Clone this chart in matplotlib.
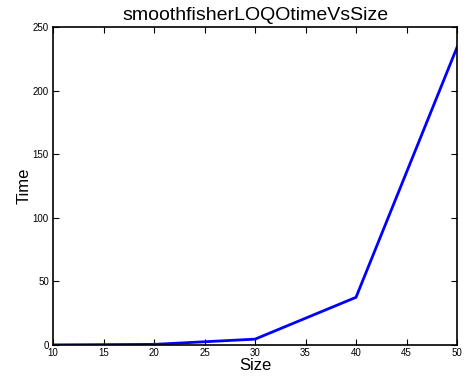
import matplotlib
matplotlib.use("Agg")
from matplotlib import pyplot as plt

sizes = [10, 20, 30, 40, 50]
times = [0.1, 0.5, 4.6, 37.5, 234]

plt.rcParams["font.family"] = ["Liberation Sans", "DejaVu Sans"]

fig = plt.figure(figsize=(4.67, 3.83), dpi=100)
ax = fig.add_axes([0.1135, 0.0992, 0.8651, 0.8303])
ax.plot(sizes, times, color="#0000ff", linewidth=2)
ax.set_xlim(10, 50)
ax.set_ylim(0, 250)
ax.set_xticks(range(10, 51, 5))
ax.set_yticks(range(0, 251, 50))
ax.tick_params(direction="in", top=True, right=True, length=4, width=0.8,
               labelsize=7)
ax.tick_params(axis="x", pad=2)
ax.tick_params(axis="y", pad=3)
for s in ax.spines.values():
    s.set_linewidth(1.2)
ax.set_xlabel("Size", fontsize=12, labelpad=0)
ax.set_ylabel("Time", fontsize=12, labelpad=1)
ax.set_title("smoothfisherLOQOtimeVsSize", fontsize=14, pad=5)
fig.savefig("out.png", dpi=100)
